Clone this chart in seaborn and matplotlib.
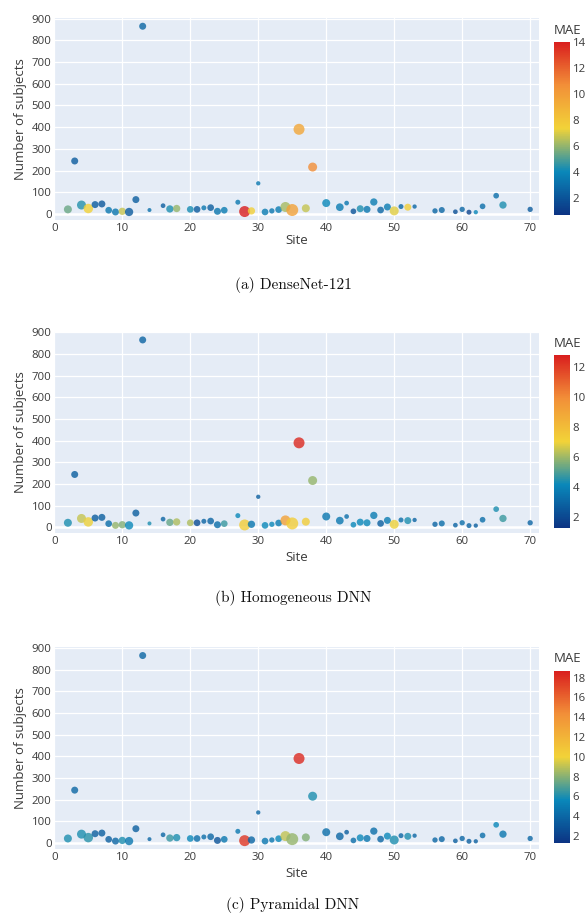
import numpy as np
import pandas as pd
import matplotlib
matplotlib.use("Agg")
import matplotlib.pyplot as plt
from matplotlib.colors import LinearSegmentedColormap, Normalize
from matplotlib.cm import ScalarMappable
import seaborn as sns

# ---------------- data ----------------
sites = [2, 3, 4, 5, 6, 7, 8, 9, 10, 11, 12, 13, 14, 16, 17, 18, 20, 21, 22, 23,
         24, 25, 27, 28, 29, 30, 31, 32, 33, 34, 35, 36, 37, 38, 40, 42, 43, 44, 45, 46,
         47, 48, 49, 50, 51, 52, 53, 56, 57, 59, 60, 61, 62, 63, 65, 66, 70]
subjects = [21, 244, 41, 25, 43, 46, 17, 9, 12, 9, 66, 865, 18, 38, 23, 25, 21, 21, 28, 29,
            12, 17, 54, 11, 14, 141, 9, 14, 20, 32, 18, 390, 26, 216, 50, 31, 50, 12, 24, 21,
            55, 18, 32, 14, 34, 31, 34, 14, 18, 10, 21, 8, 8, 35, 84, 41, 21]
# bubble size variable (marker diameter, px)
bubble = [8, 7, 9, 9.5, 7, 7, 6.7, 7, 7.3, 8.3, 7, 7, 4, 4.7, 7.3, 7.3, 6.7, 6.7, 5, 6.7,
          7, 6.7, 5, 11, 7.3, 4.3, 6.7, 5.3, 6.7, 10, 12, 11, 8, 9, 8, 7.7, 4.7, 5.7, 7, 7,
          7.3, 6.7, 7, 9, 5, 7, 4.3, 5.3, 6, 4.7, 5.3, 5, 4.3, 5.7, 5.7, 7.3, 5.3]
mae_densenet = [5.4, 2.3, 4.4, 7.4, 2.3, 2.2, 3.4, 3.3, 6.7, 2.3, 2.4, 2.7, 3.1, 2.4, 4.3, 6.0, 4.2, 2.3, 3.4, 2.4,
                3.3, 3.6, 3.4, 14.0, 7.5, 3.4, 3.6, 3.4, 3.6, 6.3, 9.7, 9.5, 6.7, 10.7, 4.0, 3.6, 3.4, 2.0, 4.3, 3.4,
                3.6, 2.7, 3.6, 7.1, 2.7, 7.6, 2.7, 2.7, 2.7, 1.8, 2.7, 1.4, 4.0, 3.0, 3.0, 4.3, 2.3]
mae_homog = [4.4, 2.8, 6.5, 7.0, 2.7, 2.8, 3.3, 5.9, 5.7, 4.2, 2.8, 3.0, 4.4, 3.0, 5.3, 6.2, 6.2, 2.2, 3.0, 3.0,
             3.3, 4.8, 4.2, 7.3, 3.6, 2.8, 4.2, 4.2, 3.8, 9.1, 7.3, 12.5, 7.3, 5.9, 3.6, 3.6, 3.3, 4.2, 4.2, 4.2,
             3.8, 2.8, 3.8, 7.0, 3.3, 4.4, 3.0, 3.0, 3.3, 3.0, 3.3, 3.0, 2.8, 3.3, 4.4, 4.8, 3.0]
mae_pyram = [6.0, 3.9, 6.0, 6.2, 3.6, 3.6, 3.6, 3.9, 6.0, 4.8, 3.6, 3.9, 3.9, 3.9, 6.5, 6.0, 5.7, 4.3, 4.3, 3.9,
             3.0, 4.8, 4.8, 17.8, 3.9, 3.9, 4.8, 4.8, 5.7, 9.1, 8.3, 18.2, 7.9, 6.0, 4.3, 3.9, 3.6, 4.3, 5.7, 4.8,
             4.3, 3.9, 5.7, 6.0, 3.9, 6.0, 3.9, 3.9, 3.9, 3.6, 3.9, 3.6, 3.6, 4.3, 5.7, 4.8, 3.9]
mae_ranges = [(0.7, 14.0), (1.3, 12.8), (1.3, 18.7)]
captions = ["(a) DenseNet-121", "(b) Homogeneous DNN", "(c) Pyramidal DNN"]
x_ticks = [0, 10, 20, 30, 40, 50, 60, 70]
y_ticks = [0, 100, 200, 300, 400, 500, 600, 700, 800, 900]
cbar_ticks = [[2, 4, 6, 8, 10, 12, 14], [2, 4, 6, 8, 10, 12], [2, 4, 6, 8, 10, 12, 14, 16, 18]]

# ---------------- style ----------------
sns.set_theme(style="darkgrid")
plt.rcParams['font.family'] = ['Open Sans', 'DejaVu Sans']
TXT = "#3a3a3a"
BG = "#E5ECF6"

portland = LinearSegmentedColormap.from_list(
    "portland", [(0.0, "#0c3383"), (0.25, "#0a88ba"), (0.5, "#f2d338"),
                 (0.75, "#f28f38"), (1.0, "#d91e1e")])

W, H = 587, 921
fig = plt.figure(figsize=(W / 100, H / 100), dpi=100)

panels = [
    dict(top=18.0, bot=220.0, cbt=41.7, cbb=215.0, mae_y=30.5, site_y=241, cap_y=285),
    dict(top=331.7, bot=533.4, cbt=355.0, cbb=528.0, mae_y=343.5, site_y=557, cap_y=598),
    dict(top=647.3, bot=849.1, cbt=670.7, cbb=843.0, mae_y=659.0, site_y=873, cap_y=905),
]
ax_left, ax_right = 54.3, 539.0
cb_left, cb_right = 554.0, 570.0

maes = [mae_densenet, mae_homog, mae_pyram]
area = [(d * 0.72) ** 2 for d in bubble]

for i, p in enumerate(panels):
    ax = fig.add_axes([ax_left / W, 1 - p['bot'] / H, (ax_right - ax_left) / W, (p['bot'] - p['top']) / H])
    ax.set_facecolor(BG)
    df = pd.DataFrame({"Site": sites, "Subjects": subjects, "MAE": maes[i], "area": area})
    vmin, vmax = mae_ranges[i]
    sns.scatterplot(data=df, x="Site", y="Subjects", hue="MAE", palette=portland,
                    hue_norm=(vmin, vmax), size="area", sizes=(min(area), max(area)),
                    size_norm=(min(area), max(area)), alpha=0.8, linewidth=0,
                    legend=False, ax=ax, zorder=3)
    ax.set_xlim(0, 71.3)
    ax.set_ylim(-28, 903)
    ax.set_xticks(x_ticks)
    ax.set_yticks(y_ticks)
    ax.grid(True, color="white", linewidth=0.9)
    ax.axhline(0, color="white", linewidth=1.8, zorder=2)
    for s in ax.spines.values():
        s.set_visible(False)
    ax.tick_params(axis='both', length=0, labelsize=8.2, colors=TXT, pad=2)
    ax.set_xlabel("")
    ax.set_ylabel("Number of subjects", fontsize=9.5, color=TXT, labelpad=3)
    fig.text((ax_left + ax_right) / 2 / W, 1 - p['site_y'] / H, "Site", ha="center", va="center",
             fontsize=9.5, color=TXT)
    fig.text(293 / W, 1 - p['cap_y'] / H, captions[i], ha="center", va="center",
             fontsize=11, color="#111111", family="cmr10")

    cax = fig.add_axes([cb_left / W, 1 - p['cbb'] / H, (cb_right - cb_left) / W, (p['cbb'] - p['cbt']) / H])
    sm = ScalarMappable(norm=Normalize(vmin, vmax), cmap=portland)
    cb = fig.colorbar(sm, cax=cax, ticks=cbar_ticks[i])
    cb.outline.set_visible(False)
    cax.tick_params(length=0, labelsize=8.2, colors=TXT, pad=2)
    fig.text(cb_left / W, 1 - p['mae_y'] / H, "MAE", ha="left", va="center", fontsize=9.5, color=TXT)

fig.savefig("out.png", dpi=100, facecolor="white")
